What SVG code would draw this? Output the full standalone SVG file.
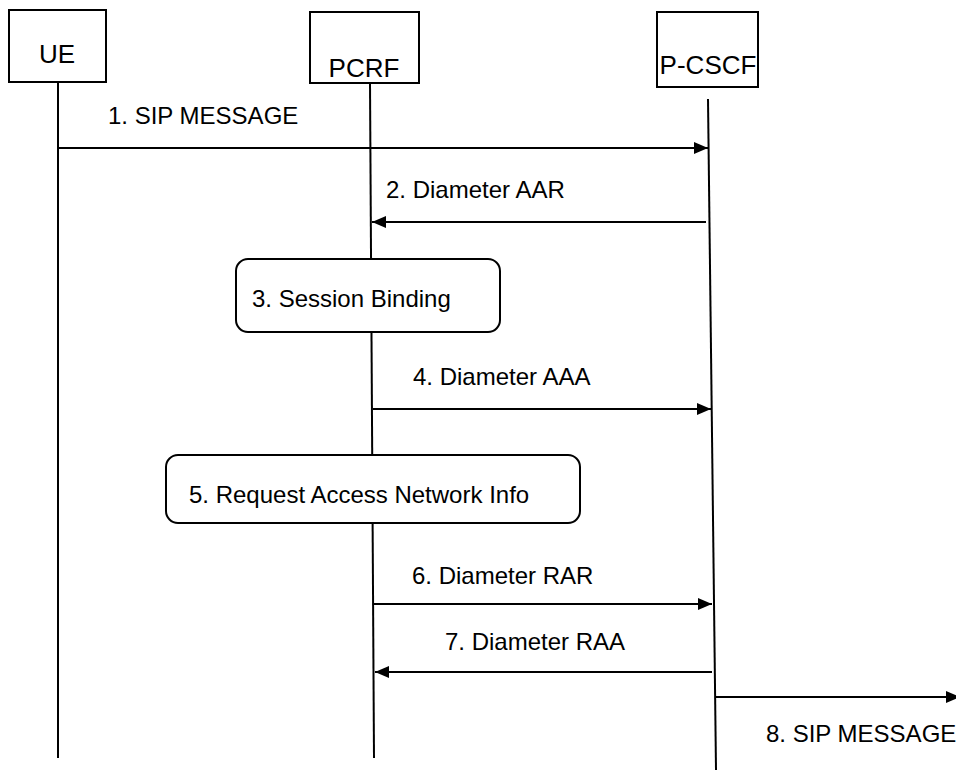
<svg xmlns="http://www.w3.org/2000/svg" width="956" height="771" viewBox="0 0 956 771">
<style>
.box{fill:#fff;stroke:#000;stroke-width:2}
.life{stroke:#000;stroke-width:2;fill:none}
.msg{stroke:#000;stroke-width:2;fill:none;marker-end:url(#ah)}
text{font-family:"Liberation Sans",Arial,sans-serif;font-size:24px;fill:#000}
.hdr{font-size:26px}
</style>
<defs>
<marker id="ah" markerWidth="14" markerHeight="12" refX="14" refY="6" orient="auto" markerUnits="userSpaceOnUse">
<path d="M0,0 L14,6 L0,12 Z" fill="#000"/>
</marker>
</defs>
<rect width="956" height="771" fill="#fff"/>
<g id="lifelines">
<line class="life" x1="58" y1="82" x2="58" y2="758"/>
<line class="life" x1="370" y1="83" x2="374" y2="758"/>
<line class="life" x1="708" y1="99" x2="716" y2="770"/>
</g>
<g id="UE">
<rect class="box" x="9" y="10" width="97" height="72"/>
<text class="hdr" x="57" y="63" text-anchor="middle">UE</text>
</g>
<g id="PCRF">
<rect class="box" x="310" y="12" width="109" height="71"/>
<text class="hdr" x="364" y="77" text-anchor="middle">PCRF</text>
</g>
<g id="PCSCF">
<rect class="box" x="657" y="12" width="101" height="75"/>
<text class="hdr" x="708" y="74" text-anchor="middle">P-CSCF</text>
</g>
<g id="step3">
<rect class="box" x="236" y="259" width="264" height="73" rx="12"/>
<text x="252" y="307">3. Session Binding</text>
</g>
<g id="step5">
<rect class="box" x="166" y="455" width="414" height="68" rx="12"/>
<text x="189" y="503">5. Request Access Network Info</text>
</g>
<g id="connectors">
<line class="msg" x1="58" y1="148" x2="708" y2="148"/>
<line class="msg" x1="706" y1="222" x2="372" y2="222"/>
<line class="msg" x1="373" y1="409" x2="711" y2="409"/>
<line class="msg" x1="374" y1="604" x2="712" y2="604"/>
<line class="msg" x1="712" y1="672" x2="375" y2="672"/>
<line class="msg" x1="715" y1="697" x2="960" y2="697"/>
</g>
<g id="labels">
<text x="108" y="124">1. SIP MESSAGE</text>
<text x="386" y="198">2. Diameter AAR</text>
<text x="413" y="385">4. Diameter AAA</text>
<text x="412" y="584">6. Diameter RAR</text>
<text x="445" y="650">7. Diameter RAA</text>
<text x="766" y="742">8. SIP MESSAGE</text>
</g>
</svg>
